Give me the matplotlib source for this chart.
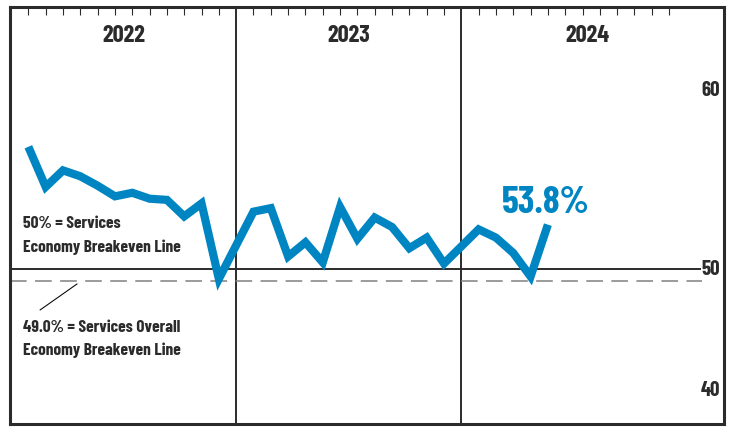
import matplotlib
matplotlib.use("Agg")
import matplotlib.pyplot as plt

plt.rcParams['font.family'] = ['Barlow Condensed', 'Liberation Sans Narrow', 'DejaVu Sans']

# ISM Services PMI, monthly
years = ["2022", "2023", "2024"]
pmi_2022 = [60.4, 57.0, 58.4, 57.9, 57.1, 56.2, 56.5, 56.0, 55.9, 54.5, 55.6, 49.2]
pmi_2023 = [54.9, 55.2, 51.1, 52.3, 50.6, 55.3, 52.6, 54.4, 53.6, 51.8, 52.7, 50.5]
pmi_2024 = [53.4, 52.7, 51.4, 49.4, 53.8]
services_breakeven = 50.0
overall_breakeven = 49.0
latest_label = "53.8%"
ytick_labels = ["60", "50", "40"]
ytick_pos = [64.7, 49.5, 39.3]  # label baselines as printed (the 60 sits high)

dark = "#2b2b2b"
blue = "#0085c3"

# each year takes 13 slots: 12 months + one for the divider line
x, y = [], []
for i, vals in enumerate([pmi_2022, pmi_2023, pmi_2024]):
    for m, v in enumerate(vals):
        x.append(13 * i + m)
        y.append(v)
month_ticks = [13 * i + m for i in range(3) for m in range(12)]
dividers = [12, 25]
year_centers = [5.5, 18.5, 32.3]

fig = plt.figure(figsize=(7.33, 4.33), dpi=100)
ax = fig.add_axes([10 / 733, 9 / 433, 714 / 733, 417 / 433])
ax.set_xlim(-1.06, 40.17)
ax.set_ylim(36.9, 72.25)

for s in ax.spines.values():
    s.set_color(dark)
    s.set_linewidth(2.2)

ax.xaxis.tick_top()
ax.set_xticks(month_ticks)
ax.tick_params(axis="x", direction="in", length=6, width=0.8, color=dark,
               labeltop=False, top=True, bottom=False)
ax.set_yticks([])

for d in dividers:
    ax.axvline(d, color=dark, lw=1.4, zorder=1)

# breakeven lines
ax.plot([-1.06, 38.77], [services_breakeven] * 2, color=dark, lw=1.4, zorder=1)
ax.plot([-1.06, 38.9], [overall_breakeven] * 2, color="#808080", lw=1.1,
        dashes=(10.9, 5.5), zorder=1)

ax.plot(x, y, color=blue, lw=5.9, solid_joinstyle="miter", solid_capstyle="butt", zorder=3)

for yr, cx in zip(years, year_centers):
    ax.text(cx, 69.3, yr, ha="center", va="baseline", fontsize=17.5,
            fontweight="bold", color=dark)

for lab, pos in zip(ytick_labels, ytick_pos):
    ax.text(39.94, pos, lab, ha="right", va="baseline", fontsize=15,
            fontweight="bold", color=dark)

ax.text(27.35, 54.8, latest_label, ha="left", va="baseline", fontsize=27.5,
        fontweight="bold", color=blue)

ax.text(-0.3, 53.52, "50% = Services", ha="left", va="baseline", fontsize=12.5,
        fontweight="bold", color=dark)
ax.text(-0.3, 51.48, "Economy Breakeven Line", ha="left", va="baseline", fontsize=12.5,
        fontweight="bold", color=dark)
ax.text(-0.32, 44.7, "49.0% = Services Overall", ha="left", va="baseline", fontsize=12.5,
        fontweight="bold", color=dark)
ax.text(-0.32, 42.75, "Economy Breakeven Line", ha="left", va="baseline", fontsize=12.5,
        fontweight="bold", color=dark)
ax.plot([0.68, 2.81], [46.57, 48.77], color="black", lw=0.75)

fig.savefig("out.png", dpi=100)
